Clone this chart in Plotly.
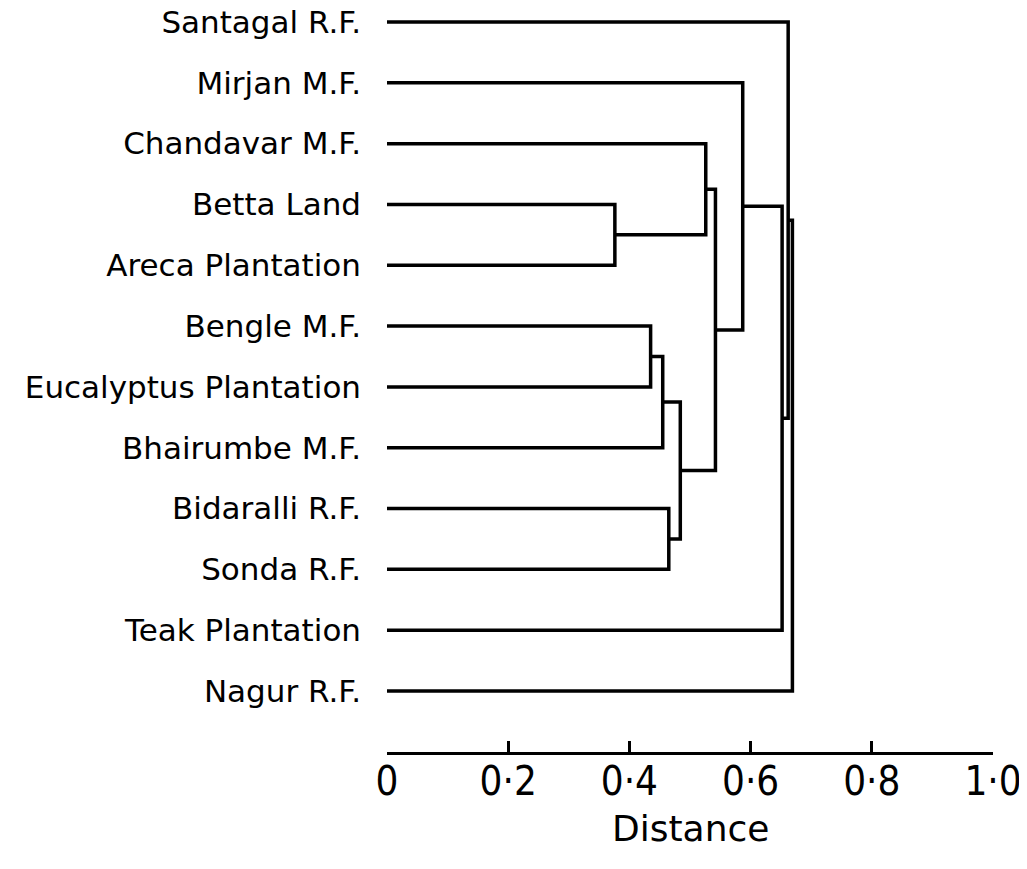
import plotly.graph_objects as go

# Leaves in display order (top to bottom)
labels = ["Santagal R.F.", "Mirjan M.F.", "Chandavar M.F.", "Betta Land",
          "Areca Plantation", "Bengle M.F.", "Eucalyptus Plantation",
          "Bhairumbe M.F.", "Bidaralli R.F.", "Sonda R.F.", "Teak Plantation",
          "Nagur R.F."]

# Linkage: (left child id, right child id, distance); new cluster ids start at 12
merge_left = [3, 2, 5, 14, 8, 15, 13, 1, 19, 0, 21]
merge_right = [4, 12, 6, 7, 9, 16, 17, 18, 10, 20, 11]
merge_dist = [0.376, 0.526, 0.435, 0.455, 0.465, 0.484, 0.542, 0.587, 0.652, 0.662, 0.669]

tick_vals = [0, 0.2, 0.4, 0.6, 0.8, 1.0]
tick_text = ["0", "0·2", "0·4", "0·6", "0·8", "1·0"]

n = len(labels)
ypos = {i: float(i) for i in range(n)}
xpos = {i: 0.0 for i in range(n)}

xs, ys = [], []
for k, (a, b, d) in enumerate(zip(merge_left, merge_right, merge_dist)):
    cid = n + k
    xs += [xpos[a], d, d, xpos[b], None]
    ys += [ypos[a], ypos[a], ypos[b], ypos[b], None]
    ypos[cid] = (ypos[a] + ypos[b]) / 2
    xpos[cid] = d

fig = go.Figure()
fig.add_trace(go.Scatter(x=xs, y=ys, mode="lines",
                         line=dict(color="black", width=3.5),
                         hoverinfo="skip", showlegend=False))

# page has an 8px body margin; work in figure coordinates
off = 8
W, H = 1027 - off, 869 - off
left_px, right_px = 387 - off, 993 - off
top_px, bottom_px = 10 - off, 752 - off
first_row_px, row_step = 22 - off, (691 - 22) / 11
y_top = (top_px - first_row_px) / row_step
y_bot = (bottom_px - first_row_px) / row_step
plot_h = bottom_px - top_px

fig.update_layout(
    width=W, height=H,
    margin=dict(l=left_px, r=W - right_px, t=top_px, b=H - bottom_px, autoexpand=False),
    paper_bgcolor="white", plot_bgcolor="white",
    font=dict(family="DejaVu Sans", color="black"),
    xaxis=dict(range=[0, 1], tickvals=tick_vals, ticktext=tick_text,
               automargin=False, ticklabeloverflow="allow",
               showgrid=False, zeroline=False, showline=True,
               linecolor="black", linewidth=3, ticks="inside",
               ticklen=11, tickwidth=3, tickcolor="black",
               ticklabelstandoff=-8,
               tickfont=dict(family="Liberation Sans Narrow, DejaVu Sans Condensed, sans-serif",
                             size=40, color="black")),
    yaxis=dict(range=[y_bot, y_top], tickvals=list(range(n)), ticktext=labels,
               automargin=False, ticklabeloverflow="allow",
               showgrid=False, zeroline=False, showline=False, ticks="",
               ticklabelstandoff=25,
               tickfont=dict(family="DejaVu Sans", size=31, color="black")),
    annotations=[dict(text="Distance", x=0.5, xref="x",
                      y=-(828 - 752) / plot_h, yref="paper",
                      xanchor="center", yanchor="middle", showarrow=False,
                      font=dict(family="DejaVu Sans", size=36, color="black"))],
)

fig.write_html("out.html")
